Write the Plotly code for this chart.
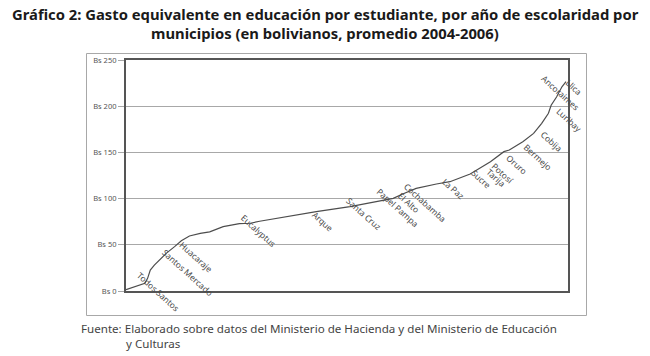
import plotly.graph_objects as go
import numpy as np

# Municipality rank (sorted by spending) and average spending (Bs)
rank = [1, 4, 9, 15, 17, 19, 22, 26, 31, 37, 42, 48, 56, 63, 73, 85, 93, 100,
        118, 142, 167, 192, 199, 206, 216, 231, 241, 256, 271, 281, 285, 295,
        303, 309, 314, 316, 320, 324, 327]
gasto = [1.5, 3.0, 4.7, 8.3, 13.7, 22.7, 28.0, 34.3, 41.0, 48.0, 54.4, 59.5,
         62.4, 64.0, 69.6, 73.0, 73.3, 75.5, 80.0, 85.9, 91.3, 97.7, 100.3,
         105.0, 111.0, 115.8, 118.3, 126.6, 140.0, 150.8, 152.6, 161.6, 170.6,
         181.5, 192.3, 201.0, 210.0, 221.0, 226.5]

# Labelled municipalities and their rank position
label_names = ["Todos Santos", "Santos Mercado", "Huacaraje", "Eucalyptus",
               "Arque", "Santa Cruz", "Papel Pampa", "El Alto", "Cochabamba",
               "La Paz", "Sucre", "Potosí", "Tarija", "Oruro", "Bermejo",
               "Cobija", "Luribay", "Ancoraimes", "Llica"]
label_ranks = [5.5, 24.5, 36.8, 82.5, 135.6, 160.3, 183.3, 198.6, 203.3,
               231.9, 252.9, 268.4, 264.0, 279.3, 292.4, 304.8, 315.9, 322.0,
               323.4]

tick_vals = [0, 50, 100, 150, 200, 250]
tick_text = ["Bs 0", "Bs 50", "Bs 100", "Bs 150", "Bs 200", "Bs 250"]

# label pixel offsets (layout tuning)
label_shift = {
    "Todos Santos": (0, 21), "Santos Mercado": (0, 17.7), "Huacaraje": (0, 10.5),
    "Eucalyptus": (0, 15), "Arque": (0, 7), "Santa Cruz": (0, 15.3),
    "Papel Pampa": (0, 20), "El Alto": (0, 10.8), "Cochabamba": (0, 18),
    "La Paz": (0, 11), "Sucre": (0, 11), "Potosí": (0, 6), "Tarija": (0, 3.7),
    "Oruro": (0, 4), "Bermejo": (0, 5), "Cobija": (0, 4), "Luribay": (0, 2.7),
    "Ancoraimes": (-23, 22), "Llica": (0, 14),
}

W, H = 650, 356
L, R, T, B = 126, 82, 60, 65
pw, ph = W - L - R, H - T - B


def px(x):  # reference-pixel x -> paper
    return (x - 126) / pw


def py(y):  # reference-pixel y -> paper
    return (291 - y) / ph


fig = go.Figure()
fig.add_trace(go.Scatter(x=rank, y=gasto, mode="lines",
                         line=dict(color="#4d4d4d", width=1.2),
                         hoverinfo="skip", showlegend=False))

FONT = "Noto Sans"
annotations = []
for name, r in zip(label_names, label_ranks):
    v = float(np.interp(r, rank, gasto))
    dx, dy = label_shift[name]
    annotations.append(dict(x=r, y=v, xref="x", yref="y", text=name,
                            showarrow=False, textangle=42,
                            xanchor="left", yanchor="top",
                            xshift=dx, yshift=dy,
                            font=dict(family=FONT, size=8.5, color="#4a4a4a")))

# title
title_font = dict(family=FONT, size=14.8, color="#1a1a1a", weight=700)
annotations.append(dict(x=px(325), y=py(14.5), xref="paper", yref="paper",
                        text="Gráfico 2: Gasto equivalente en educación por estudiante, por año de escolaridad por",
                        showarrow=False, xanchor="center", yanchor="middle",
                        borderpad=0, font=title_font))
annotations.append(dict(x=px(325), y=py(33.5), xref="paper", yref="paper",
                        text="municipios (en bolivianos, promedio 2004-2006)",
                        showarrow=False, xanchor="center", yanchor="middle",
                        borderpad=0, font=title_font))
# source
src_font = dict(family=FONT, size=11.6, color="#444444")
annotations.append(dict(x=px(79), y=py(328.5), xref="paper", yref="paper",
                        text="Fuente: Elaborado sobre datos del Ministerio de Hacienda y del Ministerio de Educación",
                        showarrow=False, xanchor="left", yanchor="middle",
                        font=src_font))
annotations.append(dict(x=px(124), y=py(343.5), xref="paper", yref="paper",
                        text="y Culturas",
                        showarrow=False, xanchor="left", yanchor="middle",
                        font=src_font))

shapes = [dict(type="rect", xref="paper", yref="paper",
               x0=px(86.5), x1=px(586.5), y0=py(315.5), y1=py(53.5),
               line=dict(color="#a8a8a8", width=1), fillcolor="rgba(0,0,0,0)",
               layer="above")]

fig.update_layout(
    width=W, height=H,
    margin=dict(l=L, r=R, t=T, b=B, pad=0),
    paper_bgcolor="white", plot_bgcolor="white",
    annotations=annotations, shapes=shapes,
    hovermode=False,
    xaxis=dict(range=[1, 1 + pw / (440 / 326)], showticklabels=False,
               showgrid=False, zeroline=False, ticks="",
               showline=True, linecolor="#555555", linewidth=2, mirror=True),
    yaxis=dict(range=[0, 250], tickvals=tick_vals, ticktext=tick_text,
               showgrid=True, gridcolor="#a8a8a8", gridwidth=1, zeroline=False,
               ticks="outside", ticklen=6, tickcolor="#a8a8a8",
               tickfont=dict(family=FONT, size=7.5, color="#555555"),
               showline=True, linecolor="#555555", linewidth=2, mirror=True),
)

fig.write_html("out.html",
               config={"displayModeBar": False, "staticPlot": True},
               post_script="document.body.style.margin='0px';")
